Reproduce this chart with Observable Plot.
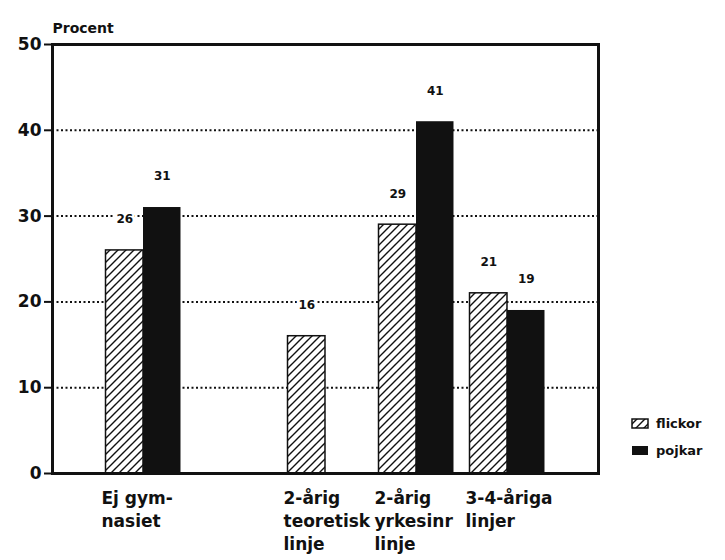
<!DOCTYPE html>
<html>
<head>
<meta charset="utf-8">
<script src="https://cdn.jsdelivr.net/npm/d3@7"></script>
<script src="https://cdn.jsdelivr.net/npm/@observablehq/plot@0.6"></script>
<style>
  body { margin: 0; background: #fff; }
  #chart svg { display: block; }
  [aria-label^="y-axis"] line, [aria-label^="y-axis"] path { stroke-width: 2; }
</style>
</head>
<body>
<div id="chart"></div>
<script>
// ---- data ----
const categories = ["Ej gymnasiet", "2-årig teoretisk linje", "2-årig yrkesinr linje", "3-4-åriga linjer"];
const categoryLabels = ["Ej gym-\nnasiet", "2-årig\nteoretisk\nlinje", "2-årig\nyrkesinr\nlinje", "3-4-åriga\nlinjer"];
const flickor = [26, 16, 29, 21];
const pojkar = [31, null, 41, 19];
const seriesNames = ["flickor", "pojkar"];
const yTicks = [0, 10, 20, 30, 40, 50];
const gridValues = [10, 20, 30, 40];
const yLabel = "Procent";

// ---- build tables ----
const xDomain = [categories[0], "", ...categories.slice(1)];
const girls = categories.map((c, i) => ({category: c, value: flickor[i]})).filter(d => d.value != null);
const boys = categories.map((c, i) => ({category: c, value: pojkar[i]})).filter(d => d.value != null);
const labelRows = categories.map((c, i) => ({category: c, label: categoryLabels[i]}));

const font = "'DejaVu Sans', sans-serif";
const ink = "#111";

const chart = Plot.plot({
  width: 725,
  height: 560,
  marginLeft: 52,
  marginRight: 127,
  marginTop: 44,
  marginBottom: 87,
  style: {fontFamily: font, fontSize: "17px", fontWeight: "bold", color: ink, background: "white", overflow: "visible"},
  x: {type: "band", domain: xDomain, paddingInner: 0.176, paddingOuter: 0.588, align: 0.5, round: false, axis: null},
  y: {domain: [0, 50], ticks: yTicks, tickSize: 8, tickPadding: 3, label: null, tickFormat: d => String(d)},
  marks: [
    Plot.ruleY(gridValues, {stroke: ink, strokeWidth: 2, strokeDasharray: "2,2.5"}),
    Plot.barY(girls, {x: "category", y: "value", fill: "url(#hatch)", stroke: ink, strokeWidth: 1.5, insetRight: 37.5}),
    Plot.barY(boys, {x: "category", y: "value", fill: ink, insetLeft: 37.5}),
    Plot.text(girls, {x: "category", y: "value", text: d => String(d.value), dx: -18.75, dy: -31, fontSize: 12, fontWeight: "bold", stroke: "white", strokeWidth: 6, fill: ink}),
    Plot.text(boys, {x: "category", y: "value", text: d => String(d.value), dx: 18.75, dy: -31, fontSize: 12, fontWeight: "bold", stroke: "white", strokeWidth: 6, fill: ink}),
    Plot.text(labelRows, {x: "category", y: () => 0, text: "label", textAnchor: "start", lineAnchor: "top", dx: -42, dy: 14, fontSize: 17, fontWeight: "bold", lineHeight: 1.35, fill: ink}),
    Plot.text([yLabel], {frameAnchor: "top-left", textAnchor: "start", dy: -21, fontSize: 14, fontWeight: "bold", fill: ink}),
    Plot.frame({stroke: ink, strokeWidth: 3})
  ]
});

// hatch pattern for the "flickor" series
const svg = d3.select(chart.tagName.toLowerCase() === "svg" ? chart : chart.querySelector("svg"));
const defs = svg.insert("defs", ":first-child");
const pat = defs.append("pattern")
  .attr("id", "hatch")
  .attr("patternUnits", "userSpaceOnUse")
  .attr("width", 8).attr("height", 8);
pat.append("rect").attr("width", 8).attr("height", 8).attr("fill", "white");
pat.append("path")
  .attr("d", "M-2,2 l4,-4 M0,8 l8,-8 M6,10 l4,-4")
  .attr("stroke", ink).attr("stroke-width", 1.4);

// legend
const legendFills = ["url(#hatch)", ink];
const lg = svg.append("g")
  .attr("font-family", font).attr("font-weight", "bold").attr("font-size", 13)
  .attr("text-anchor", "start");
seriesNames.forEach((name, i) => {
  const y0 = 419 + i * 27;
  lg.append("rect").attr("x", 632).attr("y", y0).attr("width", 16).attr("height", 9)
    .attr("fill", legendFills[i]).attr("stroke", i === 0 ? ink : "none").attr("stroke-width", 1.5);
  lg.append("text").attr("x", 656).attr("y", y0 + 9).attr("text-anchor", "start").attr("fill", ink).text(name);
});

document.getElementById("chart").appendChild(chart);
</script>
</body>
</html>
